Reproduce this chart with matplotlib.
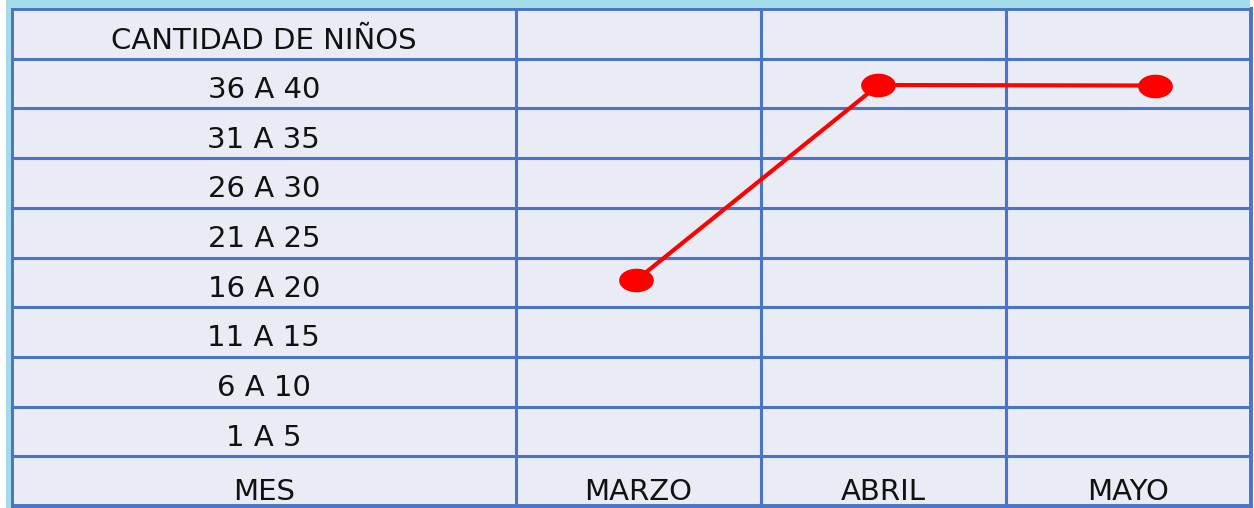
import matplotlib
matplotlib.use('Agg')
import matplotlib.pyplot as plt
from matplotlib.path import Path
from matplotlib.patches import Rectangle
import numpy as np

# ---- data ----
header_label = "CANTIDAD DE NIÑOS"
range_labels = ["36 A 40", "31 A 35", "26 A 30", "21 A 25", "16 A 20",
                "11 A 15", "6 A 10", "1 A 5"]
footer_label = "MES"
months = ["MARZO", "ABRIL", "MAYO"]
# point positions in table units (columns from start of MARZO column, rows from bottom)
month_x = [0.49, 1.48, 2.61]
point_y = [4.54, 8.47, 8.46]

# ---- style ----
W, H = 1254, 508
BLUE = '#4a74c6'
BG = '#e9ebf5'
CYAN = '#a3dbe8'
RED = '#ff0000'
TXT = '#111111'
FONT = 'DejaVu Sans'
FS = 21

fig = plt.figure(figsize=(W / 100, H / 100), dpi=100, facecolor='white')

# light cyan strips on top and left
fig.patches.append(Rectangle((6 / W, 0), 4.5 / W, 1, transform=fig.transFigure,
                             facecolor=CYAN, edgecolor='none', zorder=0))
fig.patches.append(Rectangle((6 / W, (H - 8) / H), (1250 - 6) / W, 8 / H,
                             transform=fig.transFigure, facecolor=CYAN,
                             edgecolor='none', zorder=0))

left_px, right_px, top_px, bot_px = 11.5, 1250.5, 9.0, 506.0
ax = fig.add_axes([left_px / W, (H - bot_px) / H, (right_px - left_px) / W,
                   (bot_px - top_px) / H])
ax.set_facecolor(BG)

label_col_w = (517 - 12) / 245.0
n_rows = len(range_labels) + 2
ax.set_xlim(-label_col_w, len(months))
ax.set_ylim(0, n_rows)
ax.set_xticks([])
ax.set_yticks([])
for s in ax.spines.values():
    s.set_color(BLUE)
    s.set_linewidth(2.8)

# grid lines
for r in range(1, n_rows):
    ax.axhline(r, color=BLUE, lw=2.2, zorder=1)
for c in range(len(months)):
    ax.axvline(c, color=BLUE, lw=2.2, zorder=1)

# texts
lx = -label_col_w / 2
ax.text(lx, n_rows - 1 + 0.19, header_label, ha='center', va='baseline',
        fontsize=FS, family=FONT, color=TXT)
for i, lab in enumerate(range_labels):
    row = n_rows - 2 - i
    ax.text(lx, row + 0.21, lab, ha='center', va='baseline',
            fontsize=FS, family=FONT, color=TXT)
ax.text(lx, 0.12, footer_label, ha='center', va='baseline',
        fontsize=FS, family=FONT, color=TXT)
for j, m in enumerate(months):
    ax.text(j + 0.5, 0.12, m, ha='center', va='baseline',
            fontsize=FS, family=FONT, color=TXT)

# elliptical marker
t = np.linspace(0, 2 * np.pi, 60)
ell = Path(np.column_stack([1.5 * np.cos(t), np.sin(t)]), closed=True)
ax.plot(month_x, point_y, color=RED, lw=3, marker=ell, markersize=24,
        markerfacecolor=RED, markeredgecolor=RED, zorder=3,
        solid_capstyle='round')

fig.savefig('out.png', dpi=100, facecolor='white')
